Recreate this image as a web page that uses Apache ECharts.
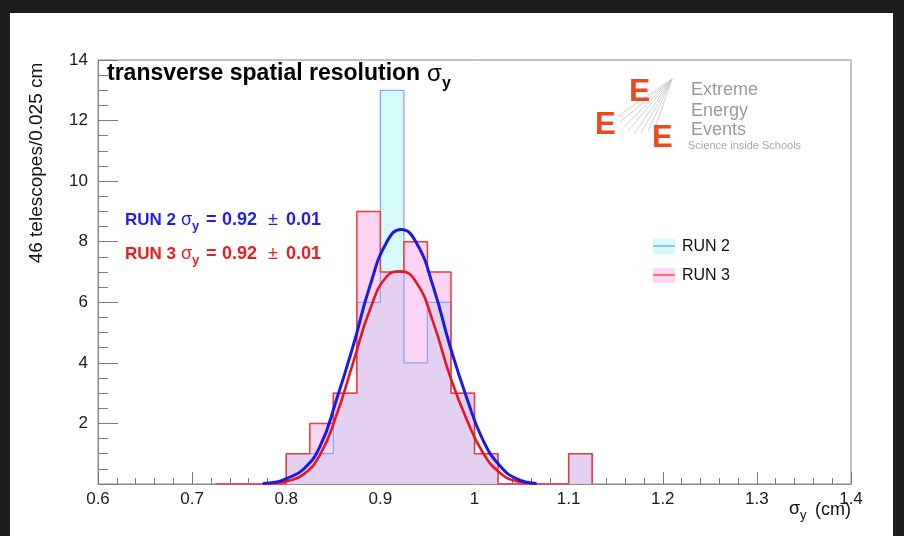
<!DOCTYPE html>
<html><head><meta charset="utf-8">
<script src="https://cdn.jsdelivr.net/npm/echarts@6/dist/echarts.min.js"></script>
<style>
html,body{margin:0;padding:0;background:#1d1d1d;width:904px;height:536px;overflow:hidden}
#bg{position:absolute;left:10px;top:13px;width:883px;height:523px;background:#fff}
#chart{position:absolute;left:0;top:0;width:904px;height:536px}
</style></head><body><div id="bg"></div><div id="chart"></div>
<script>
// ---- data ----
const binStart = 0.725;          // left edge of first bin (cm)
const binWidth = 0.025;          // bin width (cm)
const run2Counts = [0,0,0,1,1,3,6,13,4,6,3,1,0,0,0,1];
const run3Counts = [0,0,0,1,2,3,9,7,8,7,3,1,0,0,0,1];
const run2FitX = [0.775,0.790,0.800,0.818,0.836,0.853,0.871,0.889,0.907,0.922,0.9385,0.9563,0.974,0.9917,1.009,1.027,1.045,1.066];
const run2FitY = [0.02,0.07,0.18,0.48,1.25,2.75,4.55,6.55,8.0,8.4,7.95,6.5,4.55,2.85,1.45,0.6,0.17,0.02];
const run3FitX = [0.777,0.790,0.800,0.818,0.836,0.853,0.871,0.889,0.907,0.921,0.9385,0.9563,0.974,0.9917,1.009,1.027,1.045,1.064];
const run3FitY = [0.02,0.04,0.09,0.31,0.97,2.24,4.0,5.76,6.86,7.02,6.64,5.32,3.56,2.13,1.03,0.37,0.09,0.02];
const xMin = 0.6, xMax = 1.4, xStep = 0.1;
const yMin = 0, yMax = 14, yStep = 2;
const seriesNames = ['RUN 2', 'RUN 3'];
const fitMean = ['0.92', '0.92'];
const fitErr = ['0.01', '0.01'];

function stepData(counts){
  const pts = [[binStart, 0]];
  counts.forEach((c, i) => pts.push([+(binStart + i*binWidth).toFixed(4), c]));
  pts.push([+(binStart + counts.length*binWidth).toFixed(4), 0]);
  return pts;
}
function zip(xs, ys){ return xs.map((x, i) => [x, ys[i]]); }

const FONT = 'Liberation Sans, Arial, Helvetica, sans-serif';
const BLUE_T = '#1f1fe2', RED_T = '#ec1c1c';

function fitLabel(idx, y, color){
  return [
    {type:'text', x:125, y:y, style:{text:seriesNames[idx], font:'bold 17px '+FONT, fill:color, verticalAlign:'middle'}},
    {type:'text', x:181, y:y, style:{text:'σ', font:'18px '+FONT, fill:color, verticalAlign:'middle'}},
    {type:'text', x:192, y:y+6, style:{text:'y', font:'bold 13px '+FONT, fill:color, verticalAlign:'middle'}},
    {type:'text', x:206, y:y, style:{text:'=', font:'bold 18px '+FONT, fill:color, verticalAlign:'middle'}},
    {type:'text', x:222, y:y, style:{text:fitMean[idx], font:'bold 18px '+FONT, fill:color, verticalAlign:'middle'}},
    {type:'text', x:268, y:y, style:{text:'±', font:'18px '+FONT, fill:color, verticalAlign:'middle'}},
    {type:'text', x:286, y:y, style:{text:fitErr[idx], font:'bold 18px '+FONT, fill:color, verticalAlign:'middle'}}
  ];
}

const rays = [[618,116],[620,122],[624,127],[628,131],[634,134],[641,133],[648,131],[655,128]].map(p => ({
  type:'line', shape:{x1:672, y1:79, x2:p[0], y2:p[1]}, style:{stroke:'#c4c4c4', lineWidth:0.8}
}));

const chart = echarts.init(document.getElementById('chart'), null, {renderer:'canvas'});
chart.setOption({
  animation:false,
  backgroundColor:'transparent',
  grid:{left:98, right:53, top:60, bottom:52, show:true, borderColor:'#8a8a8a', borderWidth:1, backgroundColor:'transparent', outerBoundsMode:'none'},
  xAxis:{
    type:'value', min:xMin, max:xMax, interval:xStep,
    axisLine:{show:true, onZero:false, lineStyle:{color:'#8a8a8a', width:1}},
    axisTick:{show:true, inside:true, length:12, lineStyle:{color:'#7a7a7a'}},
    minorTick:{show:true, splitNumber:5, length:6, lineStyle:{color:'#7a7a7a'}},
    splitLine:{show:false},
    axisLabel:{color:'#1a1a1a', fontSize:17, fontFamily:FONT, margin:7,
      formatter: v => String(+v.toFixed(2))}
  },
  yAxis:{
    type:'value', min:yMin, max:yMax, interval:yStep,
    axisLine:{show:true, onZero:false, lineStyle:{color:'#8a8a8a', width:1}},
    axisTick:{show:true, inside:true, length:20, lineStyle:{color:'#7a7a7a'}},
    minorTick:{show:true, splitNumber:4, length:10, lineStyle:{color:'#7a7a7a'}},
    splitLine:{show:false},
    axisLabel:{color:'#1a1a1a', fontSize:17, fontFamily:FONT, margin:10,
      formatter: v => v === 0 ? '' : String(v)}
  },
  series:[
    {type:'line', name:seriesNames[0], data:stepData(run2Counts), step:'end', symbol:'none', clip:false,
      lineStyle:{color:'#8ea6f0', width:1.3}, areaStyle:{color:'#d5fafa', opacity:1}, emphasis:{disabled:true}, silent:true},
    {type:'line', name:seriesNames[1], data:stepData(run3Counts), step:'end', symbol:'none', clip:false,
      lineStyle:{color:'#f03a3a', width:1.5}, areaStyle:{color:'rgba(246,163,231,0.465)', opacity:1}, emphasis:{disabled:true}, silent:true},
    {type:'line', name:'fit3', data:zip(run3FitX, run3FitY), smooth:0.5, symbol:'none',
      lineStyle:{color:'#e8141e', width:2.6}, emphasis:{disabled:true}, silent:true},
    {type:'line', name:'fit2', data:zip(run2FitX, run2FitY), smooth:0.5, symbol:'none',
      lineStyle:{color:'#1a1ae6', width:3}, emphasis:{disabled:true}, silent:true}
  ],
  graphic:{elements:[
    // title
    {type:'text', x:107, y:74, style:{text:'transverse spatial resolution', font:'bold 23px '+FONT, fill:'#000', verticalAlign:'middle'}},
    {type:'text', x:427, y:74, style:{text:'σ', font:'24px '+FONT, fill:'#000', verticalAlign:'middle'}},
    {type:'text', x:442, y:84, style:{text:'y', font:'bold 16px '+FONT, fill:'#000', verticalAlign:'middle'}},
    // y axis title
    {type:'text', x:37, y:163, rotation:Math.PI/2, style:{text:'46 telescopes/0.025 cm', font:'19px '+FONT, fill:'#111', align:'center', verticalAlign:'middle'}},
    // x axis title
    {type:'text', x:789, y:509, style:{text:'σ', font:'18px '+FONT, fill:'#111', verticalAlign:'middle'}},
    {type:'text', x:800, y:515, style:{text:'y', font:'13px '+FONT, fill:'#111', verticalAlign:'middle'}},
    {type:'text', x:851, y:510, style:{text:'(cm)', font:'18px '+FONT, fill:'#111', align:'right', verticalAlign:'middle'}},
    // fit labels
    ...fitLabel(0, 220, BLUE_T),
    ...fitLabel(1, 254, RED_T),
    // legend
    {type:'rect', shape:{x:653, y:239, width:22, height:15}, style:{fill:'#d5fafa'}},
    {type:'line', shape:{x1:653, y1:246, x2:675, y2:246}, style:{stroke:'#7e98ee', lineWidth:1.3}},
    {type:'text', x:682, y:247, style:{text:seriesNames[0], font:'16px '+FONT, fill:'#111', verticalAlign:'middle'}},
    {type:'rect', shape:{x:653, y:268, width:22, height:15}, style:{fill:'#fbd6f5'}},
    {type:'line', shape:{x1:653, y1:275, x2:675, y2:275}, style:{stroke:'#f03a3a', lineWidth:1.3}},
    {type:'text', x:682, y:276, style:{text:seriesNames[1], font:'16px '+FONT, fill:'#111', verticalAlign:'middle'}},
    // logo
    ...rays,
    {type:'text', x:629, y:92, style:{text:'E', font:'bold 32px '+FONT, fill:'#ee4a22', verticalAlign:'middle'}},
    {type:'text', x:595, y:125, style:{text:'E', font:'bold 31px '+FONT, fill:'#ee4a22', verticalAlign:'middle'}},
    {type:'text', x:652, y:138, style:{text:'E', font:'bold 31px '+FONT, fill:'#ee4a22', verticalAlign:'middle'}},
    {type:'text', x:691, y:90, style:{text:'Extreme', font:'18px '+FONT, fill:'#9a9a9a', verticalAlign:'middle'}},
    {type:'text', x:691, y:111, style:{text:'Energy', font:'18px '+FONT, fill:'#9a9a9a', verticalAlign:'middle'}},
    {type:'text', x:691, y:130, style:{text:'Events', font:'18px '+FONT, fill:'#9a9a9a', verticalAlign:'middle'}},
    {type:'text', x:688, y:146, style:{text:'Science inside Schools', font:'11px '+FONT, fill:'#a8a8a8', verticalAlign:'middle'}}
  ]}
});
</script></body></html>
